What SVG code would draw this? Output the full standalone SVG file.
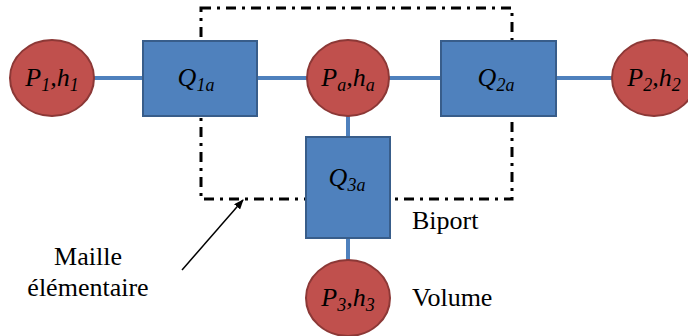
<svg xmlns="http://www.w3.org/2000/svg" width="688" height="336" viewBox="0 0 688 336">
<style>
.vol{fill:#C0504D;stroke:#8C3836;stroke-width:2}
.bip{fill:#4F81BD;stroke:#385D8A;stroke-width:2}
.wire{stroke:#4F81BD;stroke-width:4;fill:none}
</style>
<defs>
<marker id="ah" markerWidth="10" markerHeight="8" refX="9" refY="4" orient="auto" markerUnits="userSpaceOnUse">
<path d="M0,0 L10,4 L0,8 Z" fill="#000"/>
</marker>
</defs>
<g id="boundary">
<rect x="201" y="8" width="311" height="191" fill="none" stroke="#000" stroke-width="3" stroke-dasharray="10 6 3 6"/>
</g>
<g id="connectors">
<line class="wire" x1="94" y1="78" x2="143" y2="78"/>
<line class="wire" x1="257" y1="78" x2="307" y2="78"/>
<line class="wire" x1="389" y1="78" x2="441" y2="78"/>
<line class="wire" x1="556" y1="78" x2="612" y2="78"/>
<line class="wire" x1="348" y1="116" x2="348" y2="137"/>
<line class="wire" x1="348" y1="238" x2="348" y2="260"/>
<line x1="182" y1="270" x2="243" y2="200" stroke="#000" stroke-width="1.5" marker-end="url(#ah)"/>
</g>
<g id="P1">
<ellipse class="vol" cx="52" cy="78" rx="42" ry="38"/>
<text x="52" y="86" font-family="Liberation Serif" font-style="italic" font-size="26" text-anchor="middle">P<tspan font-size="18" dy="5">1</tspan><tspan dy="-5">,h</tspan><tspan font-size="18" dy="5">1</tspan></text>
</g>
<g id="Q1a">
<rect class="bip" x="143" y="41" width="114" height="75"/>
<text x="196" y="86" font-family="Liberation Serif" font-style="italic" font-size="26" text-anchor="middle">Q<tspan font-size="18" dy="5">1a</tspan></text>
</g>
<g id="Pa">
<ellipse class="vol" cx="348" cy="78" rx="41" ry="38"/>
<text x="348" y="86" font-family="Liberation Serif" font-style="italic" font-size="26" text-anchor="middle">P<tspan font-size="18" dy="5">a</tspan><tspan dy="-5">,h</tspan><tspan font-size="18" dy="5">a</tspan></text>
</g>
<g id="Q2a">
<rect class="bip" x="441" y="41" width="115" height="75"/>
<text x="496" y="86" font-family="Liberation Serif" font-style="italic" font-size="26" text-anchor="middle">Q<tspan font-size="18" dy="5">2a</tspan></text>
</g>
<g id="P2">
<ellipse class="vol" cx="654" cy="78" rx="42" ry="38"/>
<text x="654" y="86" font-family="Liberation Serif" font-style="italic" font-size="26" text-anchor="middle">P<tspan font-size="18" dy="5">2</tspan><tspan dy="-5">,h</tspan><tspan font-size="18" dy="5">2</tspan></text>
</g>
<g id="Q3a">
<rect class="bip" x="306" y="137" width="84" height="101"/>
<text x="347" y="186" font-family="Liberation Serif" font-style="italic" font-size="26" text-anchor="middle">Q<tspan font-size="18" dy="5">3a</tspan></text>
</g>
<g id="P3">
<ellipse class="vol" cx="348" cy="298" rx="42" ry="38"/>
<text x="348" y="306" font-family="Liberation Serif" font-style="italic" font-size="26" text-anchor="middle">P<tspan font-size="18" dy="5">3</tspan><tspan dy="-5">,h</tspan><tspan font-size="18" dy="5">3</tspan></text>
</g>
<g id="labels">
<text x="412" y="229" font-family="Liberation Serif" font-size="26">Biport</text>
<text x="412" y="306" font-family="Liberation Serif" font-size="26">Volume</text>
<text x="88" y="265" font-family="Liberation Serif" font-size="26" text-anchor="middle">Maille</text>
<text x="88" y="296" font-family="Liberation Serif" font-size="26" text-anchor="middle">élémentaire</text>
</g>
</svg>
